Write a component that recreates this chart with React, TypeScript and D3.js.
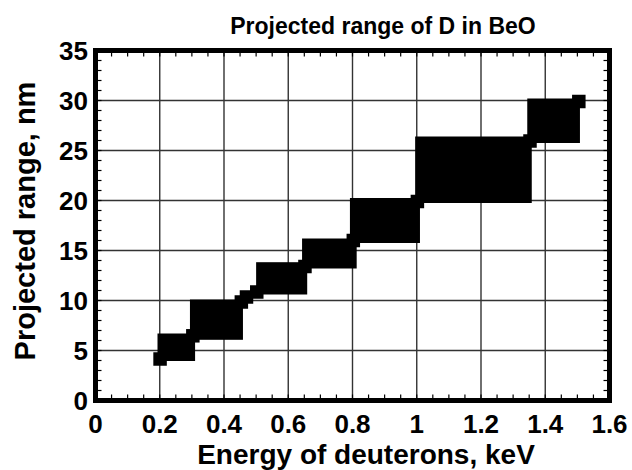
import React from "react";
import * as d3 from "d3";

// Large filled blocks: energy range (keV) and projected range (nm)
const blockE0 = [0.193, 0.294, 0.5, 0.643, 0.792, 0.995, 1.344];
const blockE1 = [0.31, 0.459, 0.659, 0.813, 1.01, 1.358, 1.508];
const blockR0 = [3.95, 6.07, 10.6, 13.2, 15.75, 19.75, 25.75];
const blockR1 = [6.7, 10.1, 13.83, 16.2, 20.25, 26.4, 30.2];

// Individual square markers
const markerE = [0.201, 0.303, 0.454, 0.47, 0.502, 0.652, 0.8025, 1.002, 1.3525, 1.5045];
const markerR = [4.15, 6.47, 9.85, 10.35, 10.85, 13.4, 16.0, 19.9, 25.95, 29.9];

const xTicks = [0, 0.2, 0.4, 0.6, 0.8, 1, 1.2, 1.4, 1.6];
const yTicks = [0, 5, 10, 15, 20, 25, 30, 35];

const title = "Projected range of D in BeO";
const xTitle = "Energy of deuterons, keV";
const yTitle = "Projected range, nm";

const W = 632;
const H = 470;
const L = 95.5, R = 609.5, T = 50.5, B = 400.5;
const FONT = "'Liberation Sans', Arial, Helvetica, sans-serif";
const MS = 13.5; // marker size px

export default function App() {
  const x = d3.scaleLinear().domain([0, 1.6]).range([L, R]);
  const y = d3.scaleLinear().domain([0, 35]).range([B, T]);
  const xMinor = d3.range(0, 1.6001, 0.05);
  const yMinor = d3.range(0, 35.001, 1);

  return (
    <div style={{ position: "absolute", left: 0, top: 0 }}>
      <svg width={W} height={H} style={{ display: "block", background: "#fff" }}>
        <rect x={0} y={0} width={W} height={H} fill="#fff" />
        {/* grid */}
        {xTicks.slice(1, -1).map((t) => (
          <line key={"gx" + t} x1={x(t)} x2={x(t)} y1={T} y2={B} stroke="#333" strokeWidth={1.4} />
        ))}
        {yTicks.slice(1, -1).map((t) => (
          <line key={"gy" + t} y1={y(t)} y2={y(t)} x1={L} x2={R} stroke="#333" strokeWidth={1.4} />
        ))}
        {/* minor ticks */}
        {xMinor.map((t, i) => (
          <g key={"mx" + i}>
            <line x1={x(t)} x2={x(t)} y1={B} y2={B - 6} stroke="#000" strokeWidth={1.2} />
            <line x1={x(t)} x2={x(t)} y1={T} y2={T + 6} stroke="#000" strokeWidth={1.2} />
          </g>
        ))}
        {yMinor.map((t, i) => (
          <g key={"my" + i}>
            <line y1={y(t)} y2={y(t)} x1={L} x2={L + 6} stroke="#000" strokeWidth={1.2} />
            <line y1={y(t)} y2={y(t)} x1={R} x2={R - 6} stroke="#000" strokeWidth={1.2} />
          </g>
        ))}
        {/* blocks */}
        {blockE0.map((e0, i) => (
          <rect
            key={"b" + i}
            x={x(e0)}
            y={y(blockR1[i])}
            width={x(blockE1[i]) - x(e0)}
            height={y(blockR0[i]) - y(blockR1[i])}
            fill="#000"
          />
        ))}
        {/* markers */}
        {markerE.map((e, i) => (
          <rect
            key={"m" + i}
            x={x(e) - MS / 2}
            y={y(markerR[i]) - MS / 2}
            width={MS}
            height={MS}
            fill="#000"
          />
        ))}
        {/* frame */}
        <rect x={L} y={T} width={R - L} height={B - T} fill="none" stroke="#000" strokeWidth={5} />
        {/* tick labels */}
        {xTicks.map((t) => (
          <text
            key={"xl" + t}
            x={x(t)}
            y={433}
            textAnchor="middle"
            fontFamily={FONT}
            fontWeight="bold"
            fontSize={26}
            fill="#000"
          >
            {String(t)}
          </text>
        ))}
        {yTicks.map((t) => (
          <text
            key={"yl" + t}
            x={88}
            y={y(t) + 9.5}
            textAnchor="end"
            fontFamily={FONT}
            fontWeight="bold"
            fontSize={26}
            fill="#000"
          >
            {t}
          </text>
        ))}
        {/* titles */}
        <text x={383} y={34} textAnchor="middle" fontFamily={FONT} fontWeight="bold" fontSize={23} fill="#000">
          {title}
        </text>
        <text x={366} y={464} textAnchor="middle" fontFamily={FONT} fontWeight="bold" fontSize={28} fill="#000">
          {xTitle}
        </text>
        <text
          transform={`translate(35, 221) rotate(-90)`}
          textAnchor="middle"
          fontFamily={FONT}
          fontWeight="bold"
          fontSize={29}
          fill="#000"
        >
          {yTitle}
        </text>
      </svg>
    </div>
  );
}
